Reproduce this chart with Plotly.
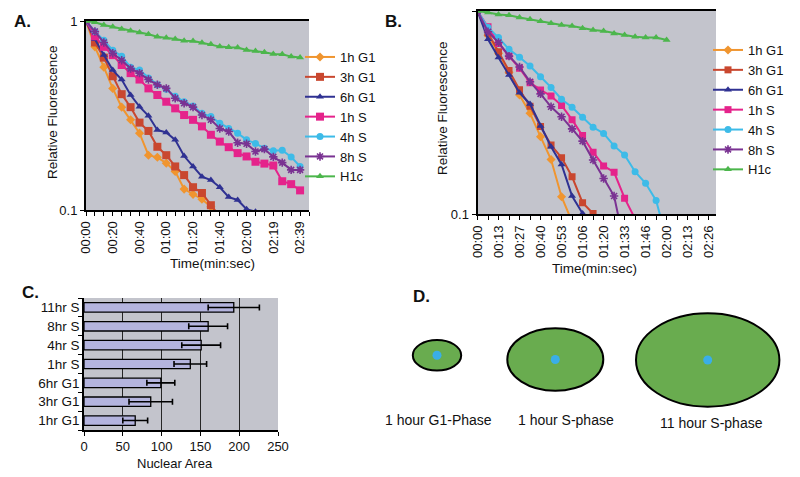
import plotly.graph_objects as go

FONT = "Liberation Sans, Arial, Helvetica, sans-serif"
# the page body keeps its default 8px margin, so the figure is drawn 8px in and sized to fill the window
OFF = 8
W, H = 800 - OFF, 477 - OFF

# ---------------- Panel A data (relative fluorescence, one point per frame) ----------------
a_tick_labels = ["00:00", "00:20", "00:40", "01:00", "01:20", "01:40", "02:00", "02:19", "02:39"]
a_1h_g1 = [1.0, 0.73, 0.57, 0.44, 0.35, 0.30, 0.255, 0.195, 0.19, 0.177, 0.16, 0.129, 0.121, 0.114, 0.104, 0.094]
a_3h_g1 = [1.0, 0.77, 0.64, 0.51, 0.41, 0.35, 0.29, 0.262, 0.216, 0.195, 0.17, 0.153, 0.132, 0.123, 0.106, 0.092]
a_6h_g1 = [1.0, 0.80, 0.66, 0.55, 0.49, 0.406, 0.352, 0.315, 0.265, 0.257, 0.235, 0.193, 0.17, 0.15, 0.144,
           0.132, 0.117, 0.113, 0.101, 0.098, 0.09]
a_1h_s = [1.0, 0.83, 0.73, 0.66, 0.585, 0.53, 0.49, 0.44, 0.406, 0.374, 0.345, 0.318, 0.30, 0.277, 0.25,
          0.23, 0.215, 0.20, 0.192, 0.18, 0.176, 0.172, 0.142, 0.137, 0.127]
a_4h_s = [1.0, 0.88, 0.79, 0.70, 0.65, 0.57, 0.55, 0.50, 0.46, 0.435, 0.40, 0.374, 0.355, 0.325, 0.312,
          0.288, 0.27, 0.255, 0.235, 0.225, 0.212, 0.206, 0.207, 0.191, 0.17]
a_8h_s = [1.0, 0.88, 0.77, 0.675, 0.62, 0.56, 0.53, 0.49, 0.46, 0.44, 0.39, 0.367, 0.35, 0.318, 0.30,
          0.27, 0.26, 0.227, 0.224, 0.204, 0.21, 0.191, 0.178, 0.163, 0.163]
a_h1c = [1.0, 0.985, 0.953, 0.933, 0.907, 0.889, 0.868, 0.85, 0.826, 0.816, 0.803, 0.787, 0.784, 0.768,
         0.753, 0.732, 0.726, 0.723, 0.703, 0.694, 0.683, 0.669, 0.666, 0.648, 0.642]

# ---------------- Panel B data ----------------
b_tick_labels = ["00:00", "00:13", "00:27", "00:40", "00:53", "01:06", "01:20", "01:33", "01:46",
                 "02:00", "02:13", "02:26"]
b_1h_g1 = [1.0, 0.76, 0.62, 0.50, 0.386, 0.314, 0.241, 0.186, 0.122, 0.092]
b_3h_g1 = [1.0, 0.78, 0.63, 0.51, 0.41, 0.34, 0.27, 0.219, 0.19, 0.153, 0.114, 0.101, 0.09]
b_6h_g1 = [1.0, 0.726, 0.59, 0.484, 0.396, 0.349, 0.272, 0.215, 0.176, 0.123, 0.101, 0.09]
b_1h_s = [1.0, 0.837, 0.693, 0.60, 0.523, 0.444, 0.409, 0.382, 0.343, 0.292, 0.244, 0.202, 0.173, 0.161,
          0.12, 0.095]
b_4h_s = [1.0, 0.83, 0.74, 0.648, 0.592, 0.536, 0.475, 0.421, 0.368, 0.336, 0.30, 0.268, 0.25, 0.217,
          0.196, 0.162, 0.142, 0.117, 0.075]
b_8h_s = [1.0, 0.79, 0.70, 0.60, 0.53, 0.449, 0.391, 0.338, 0.302, 0.263, 0.229, 0.185, 0.15, 0.123, 0.07]
b_h1c = [1.0, 0.984, 0.96, 0.953, 0.93, 0.91, 0.89, 0.87, 0.853, 0.843, 0.822, 0.806, 0.797, 0.776,
         0.762, 0.748, 0.74, 0.74, 0.72]

series_names = ["1h G1", "3h G1", "6h G1", "1h S", "4h S", "8h S", "H1c"]
series_colors = ["#f0952f", "#c9472f", "#2f3192", "#e5238b", "#3dbbe8", "#7a3292", "#4cb64c"]
series_symbols = ["diamond", "square", "triangle-up", "square", "circle", "asterisk-open", "triangle-up"]

# ---------------- Panel C data ----------------
c_categories = ["1hr G1", "3hr G1", "6hr G1", "1hr S", "4hr S", "8hr S", "11hr S"]
c_area = [66, 86, 99, 137, 151, 160, 193]
c_err = [16, 28, 18, 21, 25, 25, 33]

# ---------------- Panel D labels ----------------
d_labels = ["1 hour G1-Phase", "1 hour S-phase", "11 hour S-phase"]


def px(x):
    return (x - OFF) / W


def py(y):
    return 1 - (y - OFF) / H


fig = go.Figure()

a_series = [a_1h_g1, a_3h_g1, a_6h_g1, a_1h_s, a_4h_s, a_8h_s, a_h1c]
b_series = [b_1h_g1, b_3h_g1, b_6h_g1, b_1h_s, b_4h_s, b_8h_s, b_h1c]

for name, vals, col, sym in zip(series_names, a_series, series_colors, series_symbols):
    star = sym.startswith("asterisk")
    fig.add_trace(go.Scatter(
        x=list(range(len(vals))), y=vals, name=name, mode="lines+markers",
        xaxis="x", yaxis="y", legend="legend",
        line=dict(color=col, width=2),
        marker=dict(symbol=sym, color=col, size=8 if sym == "square" else 7,
                    line=dict(color=col, width=1.6 if star else 0)),
    ))

for name, vals, col, sym in zip(series_names, b_series, series_colors, series_symbols):
    star = sym.startswith("asterisk")
    fig.add_trace(go.Scatter(
        x=list(range(len(vals))), y=vals, name=name, mode="lines+markers",
        xaxis="x2", yaxis="y2", legend="legend2",
        line=dict(color=col, width=2),
        marker=dict(symbol=sym, color=col, size=7,
                    line=dict(color=col, width=1.6 if star else 0)),
    ))

fig.add_trace(go.Bar(
    x=c_area, y=c_categories, orientation="h", xaxis="x3", yaxis="y3", showlegend=False,
    width=0.5,
    marker=dict(color="#b4b4de", line=dict(color="black", width=1.3)),
    error_x=dict(type="data", array=c_err, visible=True, color="black", thickness=1.6, width=3),
))

# tick texts: every frame gets a tick mark, only some carry a label
a_n = 26
a_ticktext = [a_tick_labels[i // 3] if i % 3 == 0 and i // 3 < len(a_tick_labels) else "" for i in range(a_n)]
b_n = 23
b_ticktext = [b_tick_labels[i // 2] if i % 2 == 0 and i // 2 < len(b_tick_labels) else "" for i in range(b_n)]

axis_common = dict(showgrid=False, zeroline=False, showline=True, linecolor="black",
                   ticks="outside", tickcolor="black", ticklen=4, automargin=False,
                   tickfont=dict(family=FONT, size=13, color="#111"))

fig.update_layout(
    width=W, height=H,
    margin=dict(l=0, r=0, t=0, b=0, autoexpand=False),
    paper_bgcolor="white",
    plot_bgcolor="#c3c4cc",
    font=dict(family=FONT, size=13, color="#111"),
    xaxis=dict(domain=[px(86), px(309)], anchor="y", range=[0, 25],
               tickmode="array", tickvals=list(range(a_n)), ticktext=a_ticktext,
               tickangle=-90, linewidth=2, mirror=True, **axis_common),
    yaxis=dict(domain=[py(210), py(21)], anchor="x", type="log", range=[-1, 0],
               tickmode="array", tickvals=[0.1, 1], ticktext=["0.1", "1"],
               linewidth=2, **axis_common),
    xaxis2=dict(domain=[px(477.5), px(716)], anchor="y2", range=[0, 22.7],
                tickmode="array", tickvals=list(range(b_n)), ticktext=b_ticktext,
                tickangle=-90, linewidth=2, mirror=True, **axis_common),
    yaxis2=dict(domain=[py(214.3), py(11)], anchor="x2", type="log", range=[-1, 0],
                tickmode="array", tickvals=[0.1, 1], ticktext=["0.1", "1"],
                linewidth=2, **axis_common),
    xaxis3=dict(domain=[px(84), px(278)], anchor="y3", range=[0, 250],
                tickmode="array", tickvals=[0, 50, 100, 150, 200, 250],
                showgrid=True, gridcolor="#262626", gridwidth=1.2, zeroline=False,
                showline=True, linecolor="black", linewidth=1.5, automargin=False,
                ticks="outside", tickcolor="black", ticklen=4,
                tickfont=dict(family=FONT, size=13, color="#111")),
    yaxis3=dict(domain=[py(430), py(298)], anchor="x3", type="category",
                categoryorder="array", categoryarray=c_categories,
                showgrid=False, zeroline=False, showline=True, linecolor="black", linewidth=1.5,
                ticks="outside", tickson="boundaries", tickcolor="black", ticklen=4, automargin=False,
                tickfont=dict(family=FONT, size=13.5, color="#111")),
    legend=dict(xref="container", yref="container", x=px(300), y=py(117),
                xanchor="left", yanchor="middle",
                bgcolor="rgba(0,0,0,0)", font=dict(family=FONT, size=13, color="#111"),
                itemwidth=30, tracegroupgap=0),
    legend2=dict(xref="container", yref="container", x=px(708), y=py(110),
                 xanchor="left", yanchor="middle",
                 bgcolor="rgba(0,0,0,0)", font=dict(family=FONT, size=13, color="#111"),
                 itemwidth=30, tracegroupgap=0),
    showlegend=True,
)

ann = []


def add_text(text, x, y, size, bold=False, angle=0):
    ann.append(dict(text=f"<b>{text}</b>" if bold else text, x=px(x), y=py(y),
                    xref="paper", yref="paper", xanchor="center", yanchor="middle",
                    showarrow=False, textangle=angle,
                    font=dict(family=FONT, size=size, color="#111")))


add_text("A.", 22, 21, 17, bold=True)
add_text("B.", 393, 21, 17, bold=True)
add_text("C.", 30, 292, 17, bold=True)
add_text("D.", 421, 296, 17, bold=True)
add_text("Relative Fluorescence", 52, 112, 13.5, angle=-90)
add_text("Relative Fluorescence", 442, 108, 13.5, angle=-90)
add_text("Time(min:sec)", 212, 263, 13.5)
add_text("Time(min:sec)", 594, 268, 13.5)
add_text("Nuclear Area", 175, 463, 13)

# Panel D: schematic nuclei (center x, center y, radius x, radius y in pixels)
d_nuclei = [(437, 355.3, 24.2, 15.3), (555.3, 359.5, 48, 31.2), (707.7, 360, 71.7, 46.7)]
d_label_pos = [(438, 420), (566, 420), (711, 423)]
shapes = []
for (cx, cy, rx, ry), lab, (lx, ly) in zip(d_nuclei, d_labels, d_label_pos):
    shapes.append(dict(type="circle", xref="paper", yref="paper",
                       x0=px(cx - rx), x1=px(cx + rx), y0=py(cy + ry), y1=py(cy - ry),
                       fillcolor="#69ac4f", line=dict(color="black", width=2)))
    shapes.append(dict(type="circle", xref="paper", yref="paper",
                       x0=px(cx - 4.5), x1=px(cx + 4.5), y0=py(cy + 4.5), y1=py(cy - 4.5),
                       fillcolor="#3aaee8", line=dict(width=0)))
    add_text(lab, lx, ly, 14)

fig.update_layout(annotations=ann, shapes=shapes)

fig.write_html("out.html")
